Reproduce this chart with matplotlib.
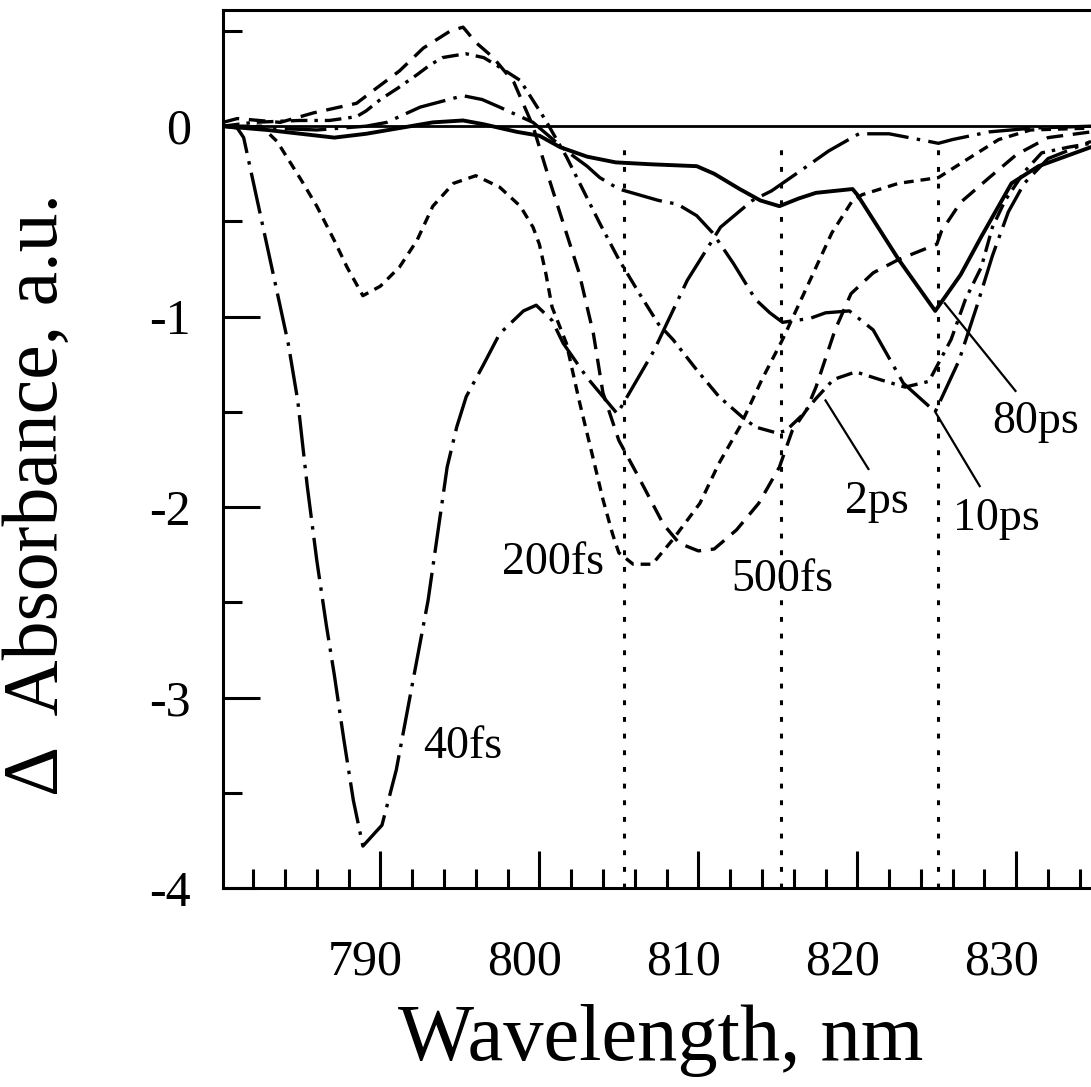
import matplotlib
matplotlib.use('Agg')
import matplotlib.pyplot as plt
import matplotlib.transforms as mtransforms
from matplotlib.ticker import MultipleLocator

plt.rcParams['font.family'] = ['Liberation Serif', 'DejaVu Serif']
plt.rcParams['lines.scale_dashes'] = False

# spectra (wavelength nm, delta absorbance a.u.)
wl_40fs = [780.1, 781.0, 781.4, 782.8, 784.2, 784.8, 785.4, 786.0, 786.6, 787.1, 787.7, 788.3,
           788.9, 790.1, 791.0, 792.1, 793.0, 794.2, 794.8, 795.4, 796.5, 797.5, 799.0, 799.8,
           800.8, 801.5, 803.0, 804.2, 804.9, 807.2, 809.3, 811.4, 813.4, 814.6, 816.5, 818.2,
           820.1, 822.0, 824.5, 825.1, 826.0, 828.3, 831.0, 834.7]
abs_40fs = [0.0, -0.01, -0.06, -0.6, -1.14, -1.44, -1.89, -2.28, -2.62, -2.88, -3.22, -3.54,
            -3.78, -3.67, -3.38, -2.89, -2.49, -1.79, -1.58, -1.42, -1.25, -1.09, -0.97, -0.94,
            -1.02, -1.14, -1.32, -1.44, -1.51, -1.18, -0.81, -0.53, -0.39, -0.34, -0.23, -0.13,
            -0.04, -0.04, -0.08, -0.09, -0.07, -0.03, -0.01, 0.0]

wl_200fs = [780.1, 782.5, 783.5, 784.1, 785.0, 786.0, 787.1, 787.9, 788.9, 790.0, 791.2, 792.3,
            793.3, 794.6, 796.0, 797.5, 798.8, 799.6, 800.0, 800.4, 800.8, 801.7, 802.5, 803.4,
            804.0, 804.6, 805.0, 805.9, 807.1, 808.4, 810.1, 811.3, 812.6, 814.0, 815.3, 816.8,
            818.4, 819.7, 820.3, 822.6, 825.1, 826.8, 828.9, 830.9, 834.7]
abs_200fs = [0.0, 0.0, -0.08, -0.16, -0.28, -0.42, -0.60, -0.74, -0.89, -0.84, -0.74, -0.60,
             -0.42, -0.30, -0.26, -0.32, -0.42, -0.53, -0.62, -0.77, -0.95, -1.14, -1.44, -1.75,
             -1.96, -2.14, -2.24, -2.30, -2.30, -2.17, -1.98, -1.77, -1.58, -1.33, -1.12, -0.85,
             -0.56, -0.39, -0.36, -0.30, -0.27, -0.18, -0.07, -0.02, -0.01]

wl_500fs = [780.1, 781.0, 783.7, 785.8, 788.5, 789.6, 791.2, 792.7, 794.4, 795.2, 796.0, 797.1,
            798.4, 799.6, 800.7, 802.5, 803.4, 804.0, 805.0, 806.1, 807.8, 808.8, 810.0, 811.0,
            812.4, 813.8, 815.1, 815.9, 816.8, 817.4, 818.6, 819.6, 821.0, 822.6, 825.0, 825.3,
            826.5, 828.3, 830.0, 832.0, 834.7]
abs_500fs = [0.02, 0.04, 0.02, 0.07, 0.12, 0.19, 0.29, 0.41, 0.50, 0.52, 0.44, 0.36,
             0.23, 0.0, -0.30, -0.77, -1.09, -1.40, -1.65, -1.82, -2.09, -2.19, -2.23, -2.22,
             -2.12, -1.98, -1.79, -1.60, -1.49, -1.37, -1.07, -0.88, -0.77, -0.70, -0.62, -0.55,
             -0.40, -0.27, -0.15, -0.06, -0.03]

wl_2ps = [780.1, 782.0, 784.9, 786.8, 788.5, 789.1, 790.0, 791.1, 792.3, 793.1, 793.9, 794.6,
          795.4, 796.5, 797.5, 798.8, 800.4, 801.7, 803.8, 805.0, 806.3, 807.5, 808.4, 809.9,
          811.3, 812.8, 813.6, 814.9, 815.5, 816.5, 817.4, 818.5, 819.9, 821.4, 823.0, 824.5,
          825.9, 826.8, 827.8, 828.5, 829.3, 830.5, 831.6, 833.3, 834.7]
abs_2ps = [0.0, 0.02, 0.03, 0.03, 0.05, 0.08, 0.14, 0.20, 0.27, 0.32, 0.36, 0.37,
           0.38, 0.36, 0.31, 0.24, 0.03, -0.16, -0.51, -0.70, -0.88, -1.04, -1.12, -1.28,
           -1.42, -1.53, -1.58, -1.61, -1.60, -1.52, -1.43, -1.33, -1.29, -1.33, -1.37, -1.34,
           -1.12, -0.91, -0.74, -0.53, -0.39, -0.24, -0.14, -0.11, -0.09]

wl_10ps = [780.1, 783.0, 786.0, 789.1, 790.4, 792.5, 795.2, 796.4, 797.5, 799.6, 801.7, 803.0,
           803.8, 805.0, 807.5, 808.7, 809.9, 810.9, 812.2, 813.6, 814.5, 815.3, 816.1, 817.0,
           818.0, 819.5, 821.0, 822.9, 824.9, 826.4, 827.5, 828.5, 829.5, 830.5, 832.0, 834.7]
abs_10ps = [0.0, -0.01, -0.02, 0.0, 0.02, 0.10, 0.16, 0.14, 0.10, 0.02, -0.13, -0.21,
            -0.27, -0.33, -0.39, -0.41, -0.47, -0.56, -0.72, -0.91, -0.98, -1.03, -1.02, -1.01,
            -0.98, -0.97, -1.07, -1.35, -1.50, -1.23, -0.95, -0.68, -0.45, -0.30, -0.17, -0.08]

wl_80ps = [780.1, 782.9, 785.0, 787.1, 789.1, 791.2, 793.3, 795.2, 796.5, 798.6, 800.0, 801.3,
           803.0, 804.8, 807.0, 809.9, 811.0, 812.6, 813.9, 815.1, 816.3, 817.4, 819.7, 820.0,
           822.6, 824.9, 826.5, 827.8, 829.7, 831.4, 834.7]
abs_80ps = [0.0, -0.02, -0.04, -0.06, -0.04, -0.01, 0.02, 0.03, 0.01, -0.03, -0.05, -0.11,
            -0.16, -0.19, -0.20, -0.21, -0.25, -0.33, -0.39, -0.42, -0.38, -0.35, -0.33, -0.36,
            -0.70, -0.97, -0.78, -0.58, -0.30, -0.21, -0.11]

marker_wl = [805.3, 815.2, 825.05]   # vertical dotted lines

# labels: text, left x, baseline y
labels = ['40fs', '200fs', '500fs', '2ps', '10ps', '80ps']
label_x = [792.7, 797.64, 812.1, 819.24, 826.04, 828.48]
label_y = [-3.32, -2.35, -2.44, -2.03, -2.12, -1.61]

# leader lines for the ps labels
leader_x = [[818.0, 820.7], [824.9, 827.7], [825.5, 829.95]]
leader_y = [[-1.44, -1.80], [-1.50, -1.89], [-0.93, -1.39]]

W, H = 1091, 1087
fig = plt.figure(figsize=(W / 100, H / 100), dpi=100)
ax = fig.add_axes([223 / W, 1 - 888 / H, 1 - 223 / W, 878 / H])
ax.set_xlim(780.1, 834.7)
ax.set_ylim(-4, 0.61)

ax.axhline(0, color='black', lw=2.0)
for xv in marker_wl:
    ax.plot([xv, xv], [-4, -0.11], color='black', lw=2.2, dashes=(3.5, 8.5))

lw = 2.4
ax.plot(wl_80ps, abs_80ps, color='black', lw=2.8)
ax.plot(wl_200fs, abs_200fs, color='black', lw=lw, dashes=(7, 5))
ax.plot(wl_500fs, abs_500fs, color='black', lw=lw, dashes=(12, 7))
ax.plot(wl_2ps, abs_2ps, color='black', lw=lw, dashes=(12, 5, 2.5, 5))
ax.plot(wl_40fs, abs_40fs, color='black', lw=lw, dashes=(30, 6, 2.5, 6))
ax.plot(wl_10ps, abs_10ps, color='black', lw=lw, dashes=(30, 6, 2.5, 6))

for lx, ly in zip(leader_x, leader_y):
    ax.plot(lx, ly, color='black', lw=1.6)

for t, x, y in zip(labels, label_x, label_y):
    ax.text(x, y, t, fontsize=33, ha='left', va='baseline')

ax.set_xticks([790, 800, 810, 820, 830])
ax.xaxis.set_minor_locator(MultipleLocator(2))
ax.set_yticks([-4, -3, -2, -1, 0])
ax.set_yticklabels(['-4', '-3', '-2', '-1', '0'])
ax.yaxis.set_minor_locator(MultipleLocator(0.5))

ax.tick_params(which='both', direction='in', width=2.2, top=False, right=False)
ax.tick_params(which='major', length=26.6, labelsize=36)
ax.tick_params(which='minor', length=13.7)
ax.tick_params(axis='x', which='major', pad=37)
ax.tick_params(axis='y', which='major', pad=23)

offset = mtransforms.ScaledTranslation(-0.15, 0, fig.dpi_scale_trans)
for lab in ax.get_xticklabels():
    lab.set_transform(lab.get_transform() + offset)

for s in ['left', 'bottom', 'top']:
    ax.spines[s].set_linewidth(2.2)
ax.spines['right'].set_visible(False)

fig.text(661 / W, 1 - 1060 / H, 'Wavelength, nm', fontsize=58, ha='center', va='baseline')
fig.text(38 / W, 1 - 494 / H, '\u0394  Absorbance, a.u.', fontsize=56, rotation=90,
         ha='center', va='center')

fig.savefig('out.png', dpi=100)
print('saved to out.png')
